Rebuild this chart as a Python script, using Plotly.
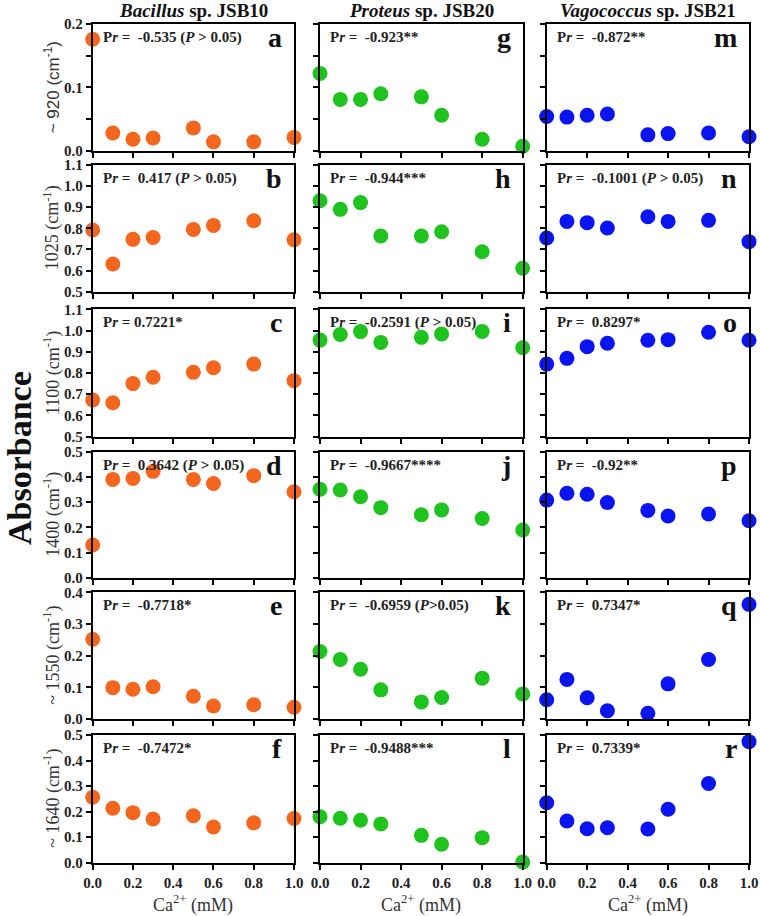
import plotly.graph_objects as go

W, H = 760, 916
OFF = 0  # body margin removed via post_script

ca = [0.0, 0.1, 0.2, 0.3, 0.5, 0.6, 0.8, 1.0]

bacillus_920 = [0.176, 0.028, 0.018, 0.020, 0.036, 0.014, 0.014, 0.021]
proteus_920 = [0.122, 0.081, 0.081, 0.090, 0.085, 0.056, 0.018, 0.007]
vago_920 = [0.054, 0.053, 0.056, 0.058, 0.025, 0.027, 0.028, 0.022]

bacillus_1025 = [0.792, 0.631, 0.748, 0.757, 0.795, 0.814, 0.836, 0.746]
proteus_1025 = [0.931, 0.890, 0.922, 0.764, 0.764, 0.784, 0.689, 0.611]
vago_1025 = [0.754, 0.833, 0.827, 0.802, 0.855, 0.833, 0.838, 0.737]

bacillus_1100 = [0.673, 0.660, 0.750, 0.780, 0.803, 0.825, 0.842, 0.764]
proteus_1100 = [0.955, 0.981, 0.995, 0.944, 0.968, 0.984, 0.996, 0.919]
vago_1100 = [0.842, 0.869, 0.924, 0.940, 0.954, 0.957, 0.992, 0.954]

bacillus_1400 = [0.130, 0.390, 0.394, 0.422, 0.390, 0.374, 0.405, 0.341]
proteus_1400 = [0.351, 0.348, 0.321, 0.278, 0.250, 0.269, 0.235, 0.189]
vago_1400 = [0.308, 0.335, 0.331, 0.298, 0.267, 0.245, 0.253, 0.226]

bacillus_1550 = [0.252, 0.099, 0.094, 0.102, 0.072, 0.041, 0.045, 0.037]
proteus_1550 = [0.213, 0.188, 0.157, 0.092, 0.054, 0.068, 0.129, 0.079]
vago_1550 = [0.061, 0.125, 0.067, 0.026, 0.018, 0.111, 0.188, 0.362]

bacillus_1640 = [0.256, 0.213, 0.196, 0.171, 0.184, 0.140, 0.156, 0.173]
proteus_1640 = [0.180, 0.174, 0.166, 0.152, 0.107, 0.072, 0.098, 0.003]
vago_1640 = [0.235, 0.163, 0.133, 0.137, 0.132, 0.209, 0.310, 0.474]

series = [
    [bacillus_920, proteus_920, vago_920],
    [bacillus_1025, proteus_1025, vago_1025],
    [bacillus_1100, proteus_1100, vago_1100],
    [bacillus_1400, proteus_1400, vago_1400],
    [bacillus_1550, proteus_1550, vago_1550],
    [bacillus_1640, proteus_1640, vago_1640],
]

col_titles = ["<i>Bacillus</i> sp. JSB10", "<i>Proteus</i> sp. JSB20", "<i>Vagococcus</i> sp. JSB21"]
row_titles = ["~ 920 (cm<sup>-1</sup>)", "1025 (cm<sup>-1</sup>)", "1100 (cm<sup>-1</sup>)",
              "1400 (cm<sup>-1</sup>)", "~ 1550 (cm<sup>-1</sup>)", "~ 1640 (cm<sup>-1</sup>)"]
pr_texts = [
    ["P<i>r</i> =  -0.535 (<i>P</i> > 0.05)", "P<i>r</i> =  -0.923**", "P<i>r</i> =  -0.872**"],
    ["P<i>r</i> =  0.417 (<i>P</i> > 0.05)", "P<i>r</i> =  -0.944***", "P<i>r</i> =  -0.1001 (<i>P</i> > 0.05)"],
    ["P<i>r</i> = 0.7221*", "P<i>r</i> =  -0.2591 (<i>P</i> > 0.05)", "P<i>r</i> =  0.8297*"],
    ["P<i>r</i> =  0.3642 (<i>P</i> > 0.05)", "P<i>r</i> =  -0.9667****", "P<i>r</i> =  -0.92**"],
    ["P<i>r</i> =  -0.7718*", "P<i>r</i> =  -0.6959 (<i>P</i>>0.05)", "P<i>r</i> =  0.7347*"],
    ["P<i>r</i> =  -0.7472*", "P<i>r</i> =  -0.9488***", "P<i>r</i> =  0.7339*"],
]
letters = [["a", "g", "m"], ["b", "h", "n"], ["c", "i", "o"],
           ["d", "j", "p"], ["e", "k", "q"], ["f", "l", "r"]]
y_ranges = [[0, 0.2], [0.5, 1.1], [0.5, 1.1], [0, 0.5], [0, 0.4], [0, 0.5]]
y_ticks = [
    ([0, 0.1, 0.2], ["0.0", "0.1", "0.2"]),
    ([0.5, 0.6, 0.7, 0.8, 0.9, 1.0, 1.1], ["0.5", "0.6", "0.7", "0.8", "0.9", "1.0", "1.1"]),
    ([0.5, 0.6, 0.7, 0.8, 0.9, 1.0, 1.1], ["0.5", "0.6", "0.7", "0.8", "0.9", "1.0", "1.1"]),
    ([0, 0.1, 0.2, 0.3, 0.4, 0.5], ["0.0", "0.1", "0.2", "0.3", "0.4", "0.5"]),
    ([0, 0.1, 0.2, 0.3, 0.4], ["0.0", "0.1", "0.2", "0.3", "0.4"]),
    ([0, 0.1, 0.2, 0.3, 0.4, 0.5], ["0.0", "0.1", "0.2", "0.3", "0.4", "0.5"]),
]
y_minor = [[0.05, 0.15], None, None, None, None, None]
x_ticks = [0, 0.2, 0.4, 0.6, 0.8, 1.0]
x_ticklabels = ["0.0", "0.2", "0.4", "0.6", "0.8", "1.0"]
colors = ["#F4661E", "#1EC31E", "#0A14F0"]

# layout geometry (target pixels on the page)
col_px = [(92.7, 294.0), (320.0, 522.7), (546.7, 749.0)]
row_px = [(24.0, 150.7), (165.0, 291.7), (309.3, 436.7), (451.7, 577.7), (592.3, 719.0), (735.0, 862.7)]


def px(x):
    return (x - OFF) / W


def py(y):
    return 1 - (y - OFF) / H


SERIF = "Liberation Serif"
fig = go.Figure()
layout = dict(width=W, height=H, margin=dict(l=0, r=0, t=0, b=0, autoexpand=False), autosize=False,
              plot_bgcolor="white", paper_bgcolor="white", showlegend=False)
annotations = []


def bold(lst):
    return ["<b>" + t + "</b>" for t in lst]


for r in range(6):
    for c in range(3):
        idx = r * 3 + c + 1
        xs = "" if idx == 1 else str(idx)
        fig.add_trace(go.Scatter(
            x=ca, y=series[r][c], mode="markers", xaxis="x" + xs, yaxis="y" + xs,
            marker=dict(color=colors[c], size=15, line=dict(width=0)), cliponaxis=False,
            hoverinfo="skip"))
        x0, x1 = col_px[c]
        y0, y1 = row_px[r]
        layout["xaxis" + xs] = dict(
            domain=[px(x0), px(x1)], range=[0, 1], anchor="y" + xs, automargin=False,
            showline=True, linecolor="black", linewidth=2, mirror=True,
            ticks="outside", ticklen=5, tickwidth=2, tickcolor="black",
            tickvals=x_ticks, ticktext=bold(x_ticklabels), showticklabels=(r == 5),
            showgrid=False, zeroline=False, fixedrange=True,
            tickfont=dict(family=SERIF, size=15, color="#222"))
        yax = dict(
            domain=[py(y1), py(y0)], range=y_ranges[r], anchor="x" + xs, automargin=False,
            showline=True, linecolor="black", linewidth=2, mirror=True,
            ticks="outside", ticklen=5, tickwidth=2, tickcolor="black",
            tickvals=y_ticks[r][0], ticktext=bold(y_ticks[r][1]), showticklabels=(c == 0),
            showgrid=False, zeroline=False, fixedrange=True,
            tickfont=dict(family=SERIF, size=15, color="#222"))
        if y_minor[r]:
            yax["minor"] = dict(tickvals=y_minor[r], ticks="outside", ticklen=5,
                                tickwidth=2, tickcolor="black", showgrid=False)
        layout["yaxis" + xs] = yax
        annotations.append(dict(
            text="<b>" + pr_texts[r][c] + "</b>", xref="paper", yref="paper",
            x=px(x0 + 8), y=py(y0 + 3), xanchor="left", yanchor="top",
            showarrow=False, font=dict(family=SERIF, size=15, color="#222")))
        annotations.append(dict(
            text="<b>" + letters[r][c] + "</b>", xref="paper", yref="paper",
            x=px(x1 - 10), y=py(y0 - 4), xanchor="right", yanchor="top",
            showarrow=False, font=dict(family=SERIF, size=28, color="#111")))

for c in range(3):
    x0, x1 = col_px[c]
    annotations.append(dict(
        text="<b>" + col_titles[c] + "</b>", xref="paper", yref="paper",
        x=px((x0 + x1) / 2), y=py(11), xanchor="center", yanchor="middle",
        showarrow=False, font=dict(family=SERIF, size=19, color="#111")))
    annotations.append(dict(
        text="Ca<sup>2+</sup> (mM)", xref="paper", yref="paper",
        x=px((x0 + x1) / 2), y=py(904), xanchor="center", yanchor="middle",
        showarrow=False, font=dict(family=SERIF, size=18, color="#333")))

for r in range(6):
    y0, y1 = row_px[r]
    annotations.append(dict(
        text=row_titles[r], xref="paper", yref="paper",
        x=px(52), y=py((y0 + y1) / 2), xanchor="center", yanchor="middle",
        textangle=-90, showarrow=False,
        font=dict(family=("Liberation Sans" if r == 0 else SERIF), size=(17 if r == 0 else 18),
                  color="#333")))

annotations.append(dict(
    text="<b>Absorbance</b>", xref="paper", yref="paper",
    x=px(19), y=py(458), xanchor="center", yanchor="middle",
    textangle=-90, showarrow=False, font=dict(family=SERIF, size=34, color="#111")))

layout["annotations"] = annotations
fig.update_layout(**layout)
fig.write_html("out.html", config={"displayModeBar": False, "staticPlot": True},
               post_script="document.body.style.margin='0px';")
